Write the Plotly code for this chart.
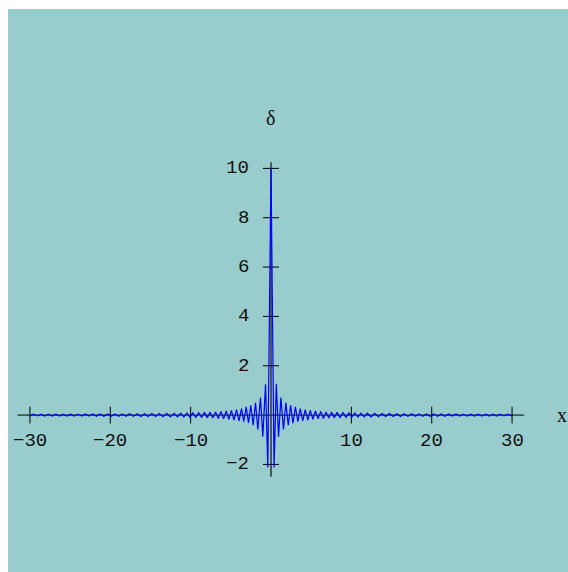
import plotly.graph_objects as go

# Curve extrema (left side, centre peak, right side)
x_left = [-30.0, -29.55, -29.08, -28.62, -28.16, -27.70, -27.24, -26.78, -26.32, -25.86,
          -25.40, -24.94, -24.48, -24.02, -23.56, -23.10, -22.64, -22.18, -21.72, -21.26,
          -20.80, -20.34, -19.88, -19.42, -18.96, -18.50, -18.04, -17.58, -17.12, -16.66,
          -16.20, -15.74, -15.28, -14.82, -14.36, -13.90, -13.44, -12.98, -12.52, -12.06,
          -11.64, -11.24, -10.85, -10.47, -10.10, -9.73, -9.36, -9.00, -8.64, -8.28,
          -7.93, -7.58, -7.24, -6.90, -6.56, -6.23, -5.90, -5.57, -5.25, -4.93,
          -4.61, -4.29, -3.98, -3.67, -3.39, -3.09, -2.80, -2.52, -2.22, -1.93,
          -1.64, -1.31, -1.02, -0.68, -0.40]
y_left = [-0.034, 0.035, -0.035, 0.036, -0.036, 0.037, -0.037, 0.038, -0.038, 0.039,
          -0.039, 0.040, -0.040, 0.041, -0.041, 0.042, -0.042, 0.044, -0.044, 0.045,
          -0.045, 0.046, -0.046, 0.048, -0.048, 0.050, -0.050, 0.052, -0.052, 0.055,
          -0.055, 0.058, -0.058, 0.060, -0.060, 0.065, -0.065, 0.070, -0.070, 0.075,
          -0.075, 0.080, -0.080, 0.085, -0.085, 0.09, -0.09, 0.10, -0.10, 0.11,
          -0.11, 0.12, -0.12, 0.13, -0.14, 0.15, -0.15, 0.17, -0.17, 0.19,
          -0.20, 0.22, -0.23, 0.26, -0.27, 0.33, -0.32, 0.40, -0.41, 0.50,
          -0.58, 0.71, -0.88, 1.25, -2.12]
peak_x = [0.0]
peak_y = [10.0]
x_right = [0.38, 0.66, 0.94, 1.23, 1.55, 1.85, 2.15, 2.44, 2.73, 3.04,
           3.34, 3.64, 3.95, 4.26, 4.58, 4.89, 5.21, 5.53, 5.86, 6.19,
           6.52, 6.85, 7.19, 7.53, 7.88, 8.23, 8.59, 8.96, 9.34, 9.70,
           10.06, 10.43, 10.81, 11.20, 11.60, 12.00, 12.45, 12.90, 13.36, 13.82,
           14.28, 14.74, 15.20, 15.66, 16.12, 16.58, 17.04, 17.50, 17.96, 18.42,
           18.88, 19.34, 19.80, 20.26, 20.72, 21.18, 21.64, 22.10, 22.56, 23.02,
           23.48, 23.94, 24.40, 24.86, 25.32, 25.78, 26.24, 26.70, 27.16, 27.62,
           28.08, 28.54, 29.00, 29.46, 30.00]
y_right = [-2.12, 1.27, -0.88, 0.71, -0.58, 0.50, -0.41, 0.40, -0.33, 0.33,
           -0.27, 0.26, -0.23, 0.22, -0.20, 0.19, -0.17, 0.17, -0.15, 0.15,
           -0.14, 0.13, -0.12, 0.12, -0.11, 0.11, -0.10, 0.10, -0.09, 0.09,
           -0.085, 0.085, -0.080, 0.080, -0.075, 0.075, -0.070, 0.070, -0.065, 0.065,
           -0.060, 0.060, -0.058, 0.058, -0.055, 0.055, -0.052, 0.052, -0.050, 0.050,
           -0.048, 0.048, -0.046, 0.046, -0.045, 0.045, -0.044, 0.044, -0.042, 0.042,
           -0.041, 0.041, -0.040, 0.040, -0.039, 0.039, -0.038, 0.038, -0.037, 0.037,
           -0.036, 0.036, -0.035, 0.035, -0.034]

x_ticks = [-30, -20, -10, 10, 20, 30]
x_tick_labels = ["\u221230", "\u221220", "\u221210", "10", "20", "30"]
y_ticks = [-2, 2, 4, 6, 8, 10]
y_tick_labels = ["\u22122", "2", "4", "6", "8", "10"]
x_title = "x"
y_title = "\u03b4"

assert len(x_left) == len(y_left) and len(x_right) == len(y_right)

xs = x_left + peak_x + x_right
ys = y_left + peak_y + y_right

fig = go.Figure()
fig.add_trace(go.Scatter(x=xs, y=ys, mode="lines",
                         line=dict(color="#0000FF", width=1.2),
                         hoverinfo="skip", showlegend=False))

shapes = []
axis_col = "#000000"
# x axis line
shapes.append(dict(type="line", xref="x", yref="y", x0=-31.55, x1=31.5, y0=0, y1=0,
                   line=dict(color=axis_col, width=1), layer="below"))
# y axis line
shapes.append(dict(type="line", xref="x", yref="y", x0=0, x1=0, y0=-2.5, y1=10.25,
                   line=dict(color="#333333", width=1.5), layer="below"))
for t in x_ticks:
    shapes.append(dict(type="line", xref="x", yref="y", x0=t, x1=t, y0=-0.34, y1=0.34,
                       line=dict(color=axis_col, width=1), layer="below"))
for t in y_ticks:
    shapes.append(dict(type="line", xref="x", yref="y", x0=-1.0, x1=1.0, y0=t, y1=t,
                       line=dict(color=axis_col, width=1), layer="below"))

annotations = []
tick_font = dict(family="Liberation Mono", size=19, color="#111111")
for t, lab in zip(x_ticks, x_tick_labels):
    annotations.append(dict(x=t, y=-1.05, xref="x", yref="y", text=lab, showarrow=False,
                            xanchor="center", yanchor="middle", font=tick_font))
for t, lab in zip(y_ticks, y_tick_labels):
    annotations.append(dict(x=-2.5, y=t, xref="x", yref="y", text=lab, showarrow=False,
                            xanchor="right", yanchor="middle", font=tick_font))
annotations.append(dict(x=36.2, y=0, xref="x", yref="y", text=x_title, showarrow=False,
                        xanchor="center", yanchor="middle",
                        font=dict(family="Liberation Serif", size=20, color="#111111")))
annotations.append(dict(x=-0.1, y=12.05, xref="x", yref="y", text=y_title, showarrow=False,
                        xanchor="center", yanchor="middle",
                        font=dict(family="Liberation Serif", size=20, color="#111111")))

fig.update_layout(
    width=568, height=572,
    margin=dict(l=8, r=0, t=9, b=0, pad=0),
    paper_bgcolor="#FFFFFF",
    plot_bgcolor="#99CCCC",
    xaxis=dict(range=[-32.73, 36.96], visible=False, fixedrange=True),
    yaxis=dict(range=[-6.36, 16.46], visible=False, fixedrange=True),
    shapes=shapes,
    annotations=annotations,
    showlegend=False,
)

fig.write_html(
    "out.html",
    config={"displayModeBar": False},
    post_script="document.body.style.margin='0';document.documentElement.style.overflow='hidden';",
)
